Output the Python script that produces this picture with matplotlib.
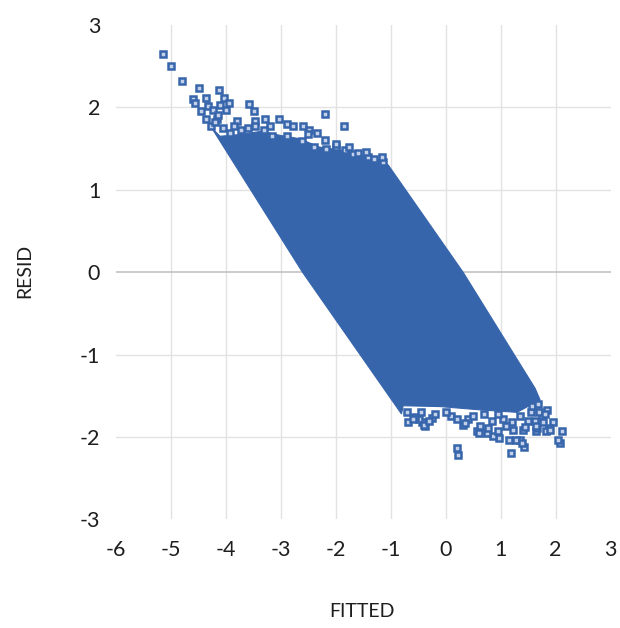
import matplotlib
matplotlib.use('Agg')
import matplotlib.pyplot as plt

plt.rcParams['font.family'] = ['Lato', 'DejaVu Sans']

# Outline of the dense cloud of residuals
band_x = [-4.25, -4.1, -3.75, -3.35, -3.0, -2.65, -2.3, -1.9, -1.55, -1.2, -1.04,
          0.32, 1.63, 1.72, 1.3, 0.63, -0.1, -0.77, -0.8, -2.6]
band_y = [1.75, 1.65, 1.67, 1.71, 1.66, 1.62, 1.52, 1.48, 1.42, 1.36, 1.30,
          0.0, -1.41, -1.55, -1.70, -1.67, -1.63, -1.62, -1.72, 0.0]

# Scattered points around the edges of the cloud
top_x = [-5.14, -5.0, -4.8, -4.49, -4.11, -4.6, -4.35, -4.03, -3.93, -4.55, -4.45,
         -4.31, -4.22, -4.10, -3.99, -3.58, -3.48, -4.35, -4.16, -3.80, -4.27, -4.13,
         -3.46, -3.28, -3.02, -2.89, -2.78, -2.60, -2.19, -1.84, -2.33, -2.48, -3.19,
         -2.61, -2.40, -2.17, -1.99, -1.83, -1.69, -1.41, -1.14, -3.92, -4.04, -3.71,
         -3.46, -3.16, -2.89, -1.3, -1.6, -2.0, -2.2, -2.5, -1.75, -1.45, -1.15,
         -3.3, -3.6, -4.2, -3.85]
top_y = [2.65, 2.50, 2.32, 2.23, 2.21, 2.10, 2.11, 2.11, 2.05, 2.05, 1.96,
         2.02, 1.97, 2.03, 1.97, 2.04, 1.96, 1.86, 1.86, 1.83, 1.77, 1.91,
         1.83, 1.86, 1.86, 1.80, 1.77, 1.78, 1.92, 1.78, 1.69, 1.73, 1.78,
         1.59, 1.52, 1.50, 1.52, 1.48, 1.44, 1.40, 1.34, 1.69, 1.75, 1.73,
         1.78, 1.65, 1.65, 1.38, 1.45, 1.55, 1.60, 1.68, 1.52, 1.46, 1.40,
         1.72, 1.75, 1.82, 1.78]

bottom_x = [0.21, 0.23, 1.19, 1.43, 1.35, 1.15, 0.98, 0.87, 0.75, 0.57, 1.29,
            2.08, 2.05, 2.11, 1.96, 1.89, 1.83, 1.65, 1.66, 1.84, 1.41, 1.23,
            0.96, 0.32, -0.37, -0.43, -0.68, -0.49, -0.25, 0.63, 0.78, 1.39,
            1.90, 1.62, 1.65, 1.75, 1.70, 1.78, -0.55, -0.2, 0.1, 0.4, 0.85,
            1.05, 1.2, 1.5, 0.35, 0.60, -0.40, -0.7, -0.6, -0.45, -0.3, 0.0,
            0.2, 0.5, 0.7, 0.95, 1.1, 1.35, 1.55, 1.45, 1.58, 1.68, 1.8]
bottom_y = [-2.13, -2.22, -2.19, -2.12, -2.04, -2.04, -2.01, -1.99, -1.95, -1.93, -2.03,
            -2.07, -2.03, -1.93, -1.82, -1.89, -1.93, -1.93, -1.89, -1.67, -1.92, -1.92,
            -1.93, -1.85, -1.87, -1.82, -1.82, -1.78, -1.77, -1.87, -1.89, -2.07,
            -1.91, -1.80, -1.86, -1.75, -1.70, -1.82, -1.76, -1.72, -1.75, -1.78, -1.80,
            -1.78, -1.82, -1.80, -1.83, -1.95, -1.85, -1.70, -1.78, -1.70, -1.80, -1.70,
            -1.78, -1.75, -1.72, -1.72, -1.86, -1.75, -1.70, -1.88, -1.62, -1.60, -1.72]

x_ticks = [-6, -5, -4, -3, -2, -1, 0, 1, 2, 3]
y_ticks = [-3, -2, -1, 0, 1, 2, 3]

blue = '#3765ac'
text_color = '#1e1e1e'

fig = plt.figure(figsize=(6.2, 6.28), dpi=100)
ax = fig.add_axes([0.1863, 0.1728, 0.7984, 0.7874])
ax.set_xlim(-6, 3)
ax.set_ylim(-3, 3)

# gridlines (none on the outer edges), darker line for the axis at y=0
for xv in x_ticks[1:-1]:
    ax.axvline(xv, color='#e2e2e2', lw=1, zorder=0)
for yv in y_ticks[1:-1]:
    if yv == 0:
        ax.axhline(yv, color='#bdbdbd', lw=1.1, zorder=1)
    else:
        ax.axhline(yv, color='#e2e2e2', lw=1, zorder=0)

ax.fill(band_x, band_y, color=blue, lw=0.8, ec=blue, zorder=2)
ax.plot(top_x, top_y, 's', ms=4.2, mfc='#c3d0ea', mec=blue, mew=1.8, zorder=3)
ax.plot(bottom_x, bottom_y, 's', ms=4.2, mfc='#c3d0ea', mec=blue, mew=1.8, zorder=3)

for s in ax.spines.values():
    s.set_visible(False)
ax.set_xticks(x_ticks)
ax.set_yticks(y_ticks)
ax.set_xticklabels([str(v) for v in x_ticks])
ax.set_yticklabels([str(v) for v in y_ticks])
ax.tick_params(length=0, labelsize=15.5, colors=text_color)
ax.tick_params(axis='x', pad=15)
ax.tick_params(axis='y', pad=11)

fig.text(0.584, 0.027, 'FITTED', ha='center', va='center', fontsize=14, color=text_color)
fig.text(0.040, 0.568, 'RESID', ha='center', va='center', rotation=90, fontsize=14,
         color=text_color)

fig.savefig('out.png', dpi=100, facecolor='white')
